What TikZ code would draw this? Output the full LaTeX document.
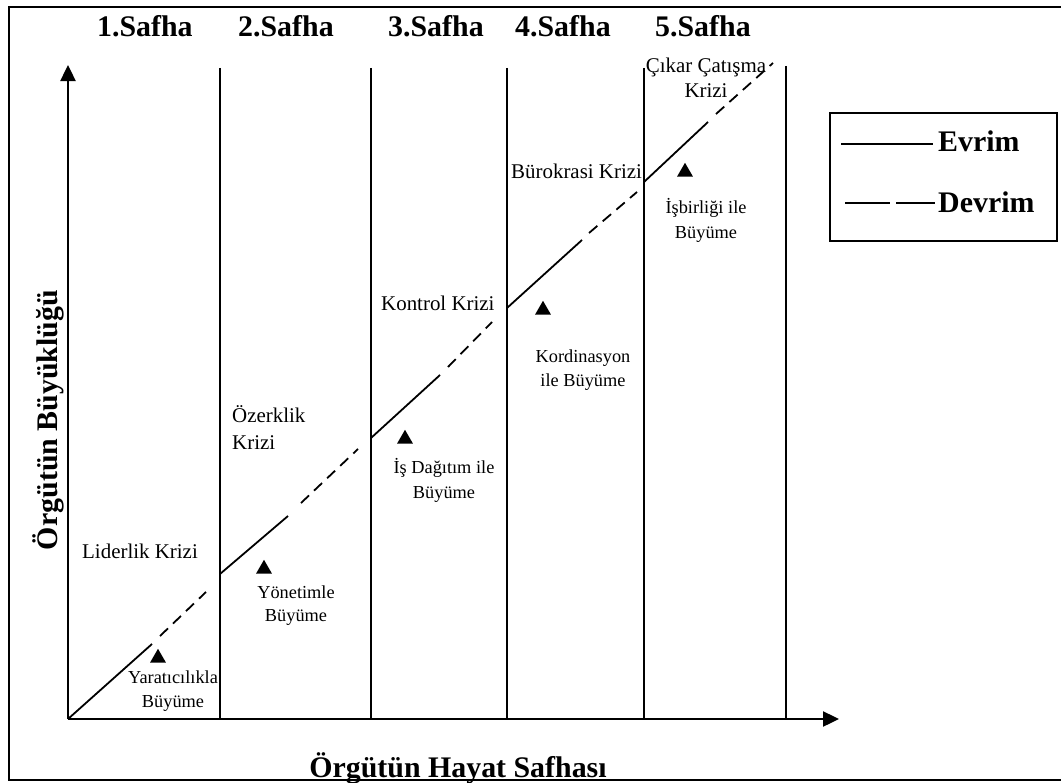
\documentclass[tikz,border=0pt]{standalone}
\usepackage{fontspec}
\setmainfont{Liberation Serif}
\usetikzlibrary{arrows.meta,shapes.geometric}
\begin{document}
\begin{tikzpicture}[x=1bp,y=-1bp,
  frame/.style={line width=2.2bp},
  axis/.style={line width=2.4bp,-{Triangle[length=16bp,width=15bp]}},
  divider/.style={line width=1.6bp},
  evr/.style={line width=1.8bp},
  dev/.style={line width=1.8bp,dash pattern=on 11bp off 7bp},
  phase/.style={font=\bfseries\fontsize{30}{34}\selectfont,inner sep=0pt,anchor=base west},
  axlabel/.style={font=\bfseries\fontsize{30}{34}\selectfont,inner sep=0pt,anchor=base},
  crisis/.style={font=\fontsize{21}{24}\selectfont,inner sep=0pt,anchor=base west},
  crisisc/.style={font=\fontsize{21}{24}\selectfont,inner sep=0pt,anchor=base},
  growth/.style={font=\fontsize{18.4}{22}\selectfont,inner sep=0pt,anchor=base},
  marker/.style={regular polygon,regular polygon sides=3,fill=black,inner sep=0pt,minimum size=18.4bp},
]
\useasboundingbox (0,0) rectangle (1061,783);

% outer frame (right side runs off the page)
\draw[frame] (1070,7) -- (9,7) -- (9,780) -- (1070,780);

% axes
\coordinate (O) at (68,719);
\coordinate (ytip) at (68,65);
\coordinate (xtip) at (839,719);
\draw[axis] (O) -- (ytip);
\draw[axis] (O) -- (xtip);

% phase dividers
\foreach \name/\x/\top in {d1/220/68, d2/371/68, d3/507/68, d4/644/68, d5/786/66} {
  \coordinate (\name t) at (\x,\top);
  \coordinate (\name b) at (\x,719);
  \draw[divider] (\name t) -- (\name b);
}

% phase headings
\node[phase] (p1) at (97,37) {1.Safha};
\node[phase] (p2) at (238,37) {2.Safha};
\node[phase] (p3) at (388,37) {3.Safha};
\node[phase] (p4) at (515,37) {4.Safha};
\node[phase] (p5) at (655,37) {5.Safha};

% growth curve: evolution (solid) and revolution (dashed) pieces
\coordinate (a1) at (68,719);  \coordinate (b1) at (152,644);
\coordinate (c1) at (160,636); \coordinate (e1) at (206,592);
\coordinate (a2) at (220,574); \coordinate (b2) at (288,516);
\coordinate (c2) at (301,503); \coordinate (e2) at (358,449);
\coordinate (a3) at (371,438); \coordinate (b3) at (440,375);
\coordinate (c3) at (448,367); \coordinate (e3) at (492,322);
\coordinate (a4) at (507,308); \coordinate (b4) at (582,240);
\coordinate (c4) at (589,233); \coordinate (e4) at (637,192);
\coordinate (a5) at (644,182); \coordinate (b5) at (708,122);
\coordinate (c5) at (716,114); \coordinate (e5) at (773,63);
\foreach \i in {1,...,5} {
  \draw[evr] (a\i) -- (b\i);
  \draw[dev] (c\i) -- (e\i);
}

% growth markers
\node[marker] (m1) at (158,658) {};
\node[marker] (m2) at (264,569) {};
\node[marker] (m3) at (405,439) {};
\node[marker] (m4) at (543,310) {};
\node[marker] (m5) at (685,172) {};

% crisis labels
\node[crisis] (k1) at (82,558) {Liderlik Krizi};
\node[crisis] (k2a) at (232,422) {Özerklik};
\node[crisis] (k2b) at (232,449) {Krizi};
\node[crisis] (k3) at (381,310) {Kontrol Krizi};
\node[crisis] (k4) at (511,178) {Bürokrasi Krizi};
\node[crisisc] (k5a) at (706,73) {Çıkar Çatışma};
\node[crisisc] (k5b) at (706,98) {Krizi};

% growth labels
\node[growth] (g1a) at (173,683) {Yaratıcılıkla};
\node[growth] (g1b) at (173,707) {Büyüme};
\node[growth] (g2a) at (296,598) {Yönetimle};
\node[growth] (g2b) at (296,621) {Büyüme};
\node[growth] (g3a) at (444,473) {İş Dağıtım ile};
\node[growth] (g3b) at (444,498) {Büyüme};
\node[growth] (g4a) at (583,362) {Kordinasyon};
\node[growth] (g4b) at (583,386) {ile Büyüme};
\node[growth] (g5a) at (706,213) {İşbirliği ile};
\node[growth] (g5b) at (706,238) {Büyüme};

% axis titles
\node[axlabel, rotate=90] (ylab) at (57,420) {Örgütün Büyüklüğü};
\node[axlabel] (xlab) at (458,777) {Örgütün Hayat Safhası};

% legend
\node[draw, line width=1.8bp, minimum width=227bp, minimum height=128bp, inner sep=0pt] (legend) at (943.5,177) {};
\coordinate (ev1) at (841,144); \coordinate (ev2) at (933,144);
\coordinate (dv1) at (845,203); \coordinate (dv2) at (935,203);
\draw[evr] (ev1) -- (ev2);
\draw[evr, dash pattern=on 45bp off 6bp] (dv1) -- (dv2);
\node[phase] (evrim) at (938,151) {Evrim};
\node[phase] (devrim) at (938,212) {Devrim};
\end{tikzpicture}
\end{document}
